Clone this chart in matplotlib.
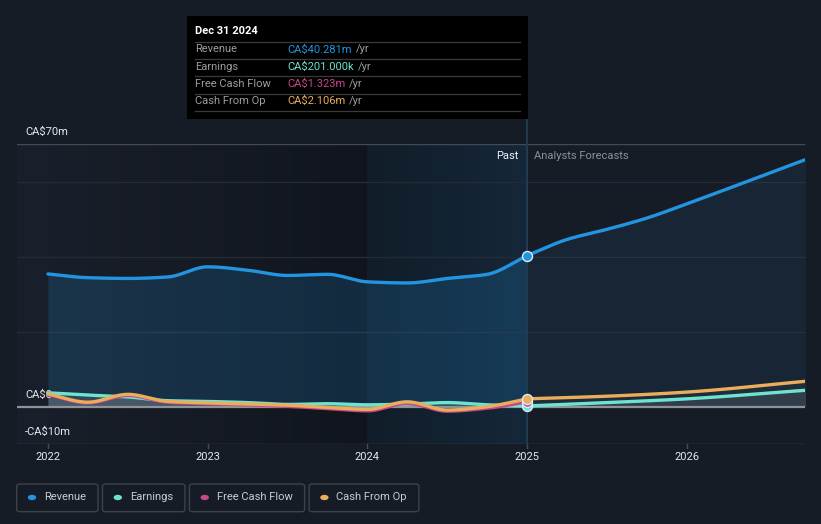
import numpy as np
import matplotlib
matplotlib.use('Agg')
import matplotlib.pyplot as plt
from matplotlib.patches import Rectangle, FancyBboxPatch, Circle
from matplotlib.colors import LinearSegmentedColormap
from matplotlib.lines import Line2D

plt.rcParams['font.family'] = ['Roboto', 'DejaVu Sans']

# ---------------- data (CA$ millions) ----------------
past_years = [2022.0, 2022.25, 2022.5, 2022.75, 2023.0, 2023.25, 2023.5,
              2023.75, 2024.0, 2024.25, 2024.5, 2024.75, 2025.0]
revenue_past = [35.4, 34.4, 34.2, 34.6, 37.3, 36.4, 35.0, 35.3, 33.3, 33.0, 34.2, 35.3, 40.3]
earnings_past = [3.7, 3.1, 2.6, 1.6, 1.4, 1.1, 0.6, 0.8, 0.5, 0.7, 1.1, 0.5, 0.2]
fcf_past = [3.2, 1.0, 3.0, 1.2, 0.8, 0.5, 0.1, -0.5, -1.1, 0.9, -1.2, -0.4, 1.3]
cfo_past = [3.4, 1.2, 3.3, 1.4, 1.0, 0.7, 0.4, -0.2, -0.7, 1.3, -0.9, 0.0, 2.1]

rev_fc_years = [2025.0, 2025.25, 2025.5, 2025.75, 2026.0, 2026.75]
revenue_fc = [40.3, 44.6, 47.3, 50.3, 54.1, 66.0]
fc_years = [2025.0, 2025.5, 2026.0, 2026.75]
earnings_fc = [0.2, 1.1, 2.1, 4.4]
cfo_fc = [2.1, 2.8, 3.9, 6.8]

year_ticks = [2022, 2023, 2024, 2025, 2026]
y_labels = [(70, 'CA$70m'), (0, 'CA$0'), (-10, '-CA$10m')]
grid_vals = [20, 40, 60]

tooltip_title = 'Dec 31 2024'
tooltip_rows = [('Revenue', 'CA$40.281m'), ('Earnings', 'CA$201.000k'),
                ('Free Cash Flow', 'CA$1.323m'), ('Cash From Op', 'CA$2.106m')]
legend_names = ['Revenue', 'Earnings', 'Free Cash Flow', 'Cash From Op']

# ---------------- style ----------------
BG = '#161c26'
C_REV = '#2394df'
C_EARN = '#6ee3cf'
C_FCF = '#c8468a'
C_CFO = '#e9ad5b'
colors = [C_REV, C_EARN, C_FCF, C_CFO]

W, H = 821, 524
X_MIN, X_MAX = 2021.806, 2026.740


def smooth(x, y, n=40):
    x = np.asarray(x, float); y = np.asarray(y, float)
    h = np.diff(x); d = np.diff(y) / h
    m = np.zeros_like(y)
    m[0] = d[0]; m[-1] = d[-1]
    for i in range(1, len(y) - 1):
        if d[i - 1] * d[i] <= 0:
            m[i] = 0.0
        else:
            w1 = 2 * h[i] + h[i - 1]; w2 = h[i] + 2 * h[i - 1]
            m[i] = (w1 + w2) / (w1 / d[i - 1] + w2 / d[i])
    xs, ys = [], []
    t = np.linspace(0, 1, n, endpoint=False)
    h00 = 2 * t**3 - 3 * t**2 + 1; h10 = t**3 - 2 * t**2 + t
    h01 = -2 * t**3 + 3 * t**2; h11 = t**3 - t**2
    for i in range(len(x) - 1):
        xs.append(x[i] + t * h[i])
        ys.append(h00 * y[i] + h10 * h[i] * m[i] + h01 * y[i + 1] + h11 * h[i] * m[i + 1])
    xs.append([x[-1]]); ys.append([y[-1]])
    return np.concatenate(xs), np.concatenate(ys)


fig = plt.figure(figsize=(W / 100, H / 100), dpi=100, facecolor=BG)


def fx(x):
    return x / W


def fy(y):
    return 1 - y / H


ax = fig.add_axes([17 / W, 1 - 444.2 / H, 788 / W, 300 / H])
ax.set_facecolor(BG)
ax.axis('off')

# background gradients
cm_left = LinearSegmentedColormap.from_list('l', ['#1a202b', '#10151d'])
ax.imshow(np.linspace(0, 1, 256)[None, :], extent=[X_MIN, 2024, -10, 70],
          aspect='auto', cmap=cm_left, zorder=0, interpolation='bilinear')
cm_band = LinearSegmentedColormap.from_list('b', ['#111d29', '#152739'])
ax.imshow(np.linspace(0, 1, 256)[None, :], extent=[2024, 2025, -10, 70],
          aspect='auto', cmap=cm_band, zorder=0, interpolation='bilinear')

# grid lines
for g in grid_vals:
    ax.axhline(g, color='#252b36', lw=1.0, zorder=1)
ax.axhline(70, color='#454a52', lw=1.0, zorder=1)
ax.axhline(-10, color='#454a52', lw=1.0, zorder=1)

# fills
xr, yr = smooth(past_years, revenue_past)
ax.fill_between(xr, 0, yr, color=C_REV, alpha=0.18, lw=0, zorder=2)
xrf, yrf = smooth(rev_fc_years, revenue_fc)
ax.fill_between(xrf, 0, yrf, color=C_REV, alpha=0.08, lw=0, zorder=2)

xe, ye = smooth(past_years, earnings_past)
xc, yc = smooth(past_years, cfo_past)
xf, yf = smooth(past_years, fcf_past)
ax.fill_between(xe, 0, ye, color='#b8b8b8', alpha=0.16, lw=0, zorder=2)
ax.fill_between(xc, 0, yc, color='#b8b8b8', alpha=0.16, lw=0, zorder=2)
xef, yef = smooth(fc_years, earnings_fc)
xcf, ycf = smooth(fc_years, cfo_fc)
ax.fill_between(xef, 0, yef, color='#b8c8c4', alpha=0.12, lw=0, zorder=2)
ax.fill_between(xcf, 0, ycf, color='#b8b8b8', alpha=0.05, lw=0, zorder=2)

# zero line
ax.axhline(0, color='#8f9297', lw=1.6, zorder=3)

# vertical "now" line
ax.plot([2025, 2025], [-10, 77], color='#213b52', lw=1.4, zorder=3, clip_on=False)

# series lines
lw = 2.4
ax.plot(xe, ye, color=C_EARN, lw=lw, zorder=4, solid_capstyle='round')
ax.plot(xef, yef, color=C_EARN, lw=lw, zorder=4, solid_capstyle='round')
ax.plot(xf, yf, color=C_FCF, lw=lw, zorder=5, solid_capstyle='round')
ax.plot(xc, yc, color=C_CFO, lw=lw, zorder=6, solid_capstyle='round')
ax.plot(xcf, ycf, color=C_CFO, lw=lw, zorder=6, solid_capstyle='round')
ax.plot(xr, yr, color=C_REV, lw=lw, zorder=6, solid_capstyle='round')
ax.plot(xrf, yrf, color=C_REV, lw=lw, zorder=6, solid_capstyle='round')

# markers at the last reported point
for val, col, z in [(earnings_past[-1], C_EARN, 7), (fcf_past[-1], C_FCF, 8),
                    (cfo_past[-1], C_CFO, 9), (revenue_past[-1], C_REV, 9)]:
    ax.plot([past_years[-1]], [val], marker='o', ms=7.2, mfc=col, mec='#d8ecf8',
            mew=1.0, zorder=z, clip_on=False)

ax.set_xlim(X_MIN, X_MAX)
ax.set_ylim(-10, 70)

# year ticks and labels
for yr_ in year_ticks:
    ax.plot([yr_, yr_], [-10, -10 - 4 / 3.75], color='#454a52', lw=1.0,
            clip_on=False, zorder=1)
    ax.annotate(str(yr_), xy=(yr_, -10), xytext=(0, -13), textcoords='offset pixels',
                ha='center', va='center', color='#e6e8ea', fontsize=8)

# y labels
for v, s in y_labels:
    ax.annotate(s, xy=(X_MIN, v), xytext=(8, 12), textcoords='offset pixels',
                ha='left', va='center', color='#e6e8ea', fontsize=8)

# Past / Analysts Forecasts
ax.annotate('Past', xy=(2025, 70), xytext=(-9, -12), textcoords='offset pixels',
            ha='right', va='center', color='#f0f2f4', fontsize=8)
ax.annotate('Analysts Forecasts', xy=(2025, 70), xytext=(7, -12), textcoords='offset pixels',
            ha='left', va='center', color='#8b9099', fontsize=8)

# ---------------- tooltip ----------------
fig.patches.append(Rectangle((fx(187), fy(119)), (528 - 187) / W, (119 - 16) / H,
                             transform=fig.transFigure, facecolor='#000000',
                             edgecolor='none', zorder=10))
fig.text(fx(195), fy(31), tooltip_title, color='#ffffff', fontsize=8,
         fontweight='bold', ha='left', va='center', zorder=11)
sep_y = [41.5, 58.7, 76.3, 93.7, 111.0]
for sy in sep_y:
    fig.add_artist(Line2D([fx(195), fx(520)], [fy(sy), fy(sy)], transform=fig.transFigure,
                          color='#3a3a3a', lw=0.9, zorder=11))
row_y = [49.5, 66.5, 84.0, 101.0]
renderer = fig.canvas.get_renderer()
for (lab, val), col, ry in zip(tooltip_rows, colors, row_y):
    fig.text(fx(195), fy(ry), lab, color='#9a9da2', fontsize=8, ha='left',
             va='center', zorder=11)
    t = fig.text(fx(287), fy(ry), val, color=col, fontsize=8, ha='left',
                 va='center', zorder=11)
    bb = t.get_window_extent(renderer=renderer)
    fig.text(bb.x1 / W + 4 / W, fy(ry), '/yr', color='#9a9da2', fontsize=8,
             ha='left', va='center', zorder=11)

# ---------------- legend ----------------
x0 = 16.7
for name, col in zip(legend_names, colors):
    t = fig.text(fx(x0 + 27.3), fy(497.5), name, color='#c9cdd2', fontsize=8.0,
                 ha='left', va='center', zorder=11)
    bb = t.get_window_extent(renderer=renderer)
    w = 27.3 + bb.width + 12
    fig.patches.append(FancyBboxPatch((fx(x0), fy(511.7)), w / W, 27.7 / H,
                                      boxstyle='round,pad=0,rounding_size=0.004',
                                      transform=fig.transFigure, facecolor='none',
                                      edgecolor='#3c414a', lw=1.0, zorder=10))
    fig.patches.append(Circle((fx(x0 + 15.3), fy(497.5)), 4.2 / W,
                              transform=fig.transFigure, facecolor=col,
                              edgecolor='none', zorder=11))
    x0 += w + 4.5

fig.savefig('out.png', dpi=100, facecolor=BG)
